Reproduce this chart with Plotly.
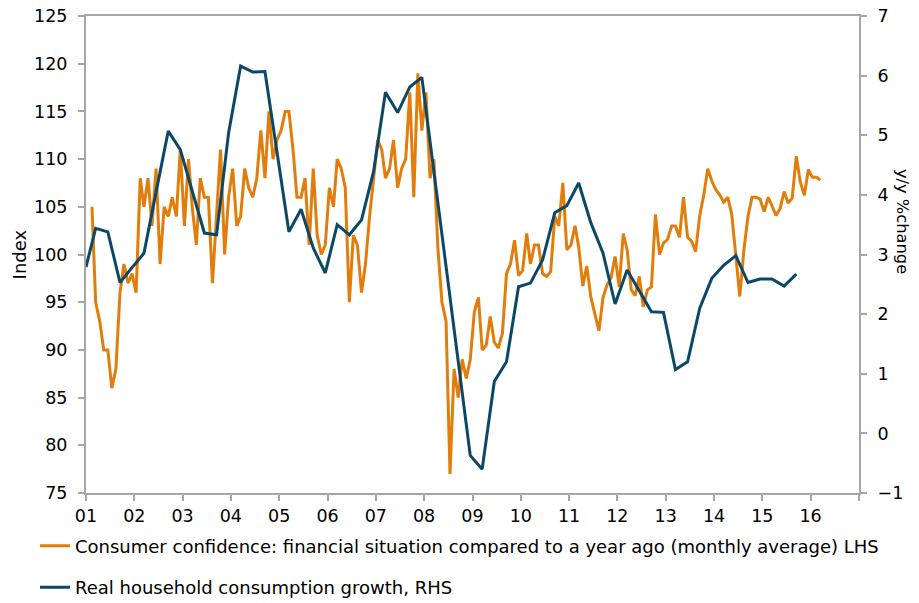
import pandas as pd
import plotly.graph_objects as go

# Monthly consumer confidence (LHS), Jan 2001 - Feb 2016
conf_start = "2001-01-15"
confidence = [
    105, 95, 93, 90, 90, 86, 88, 96, 99, 97, 98, 96,            # 2001
    108, 105, 108, 103, 109, 99, 105, 104, 106, 104, 111, 103,  # 2002
    110, 105, 101, 108, 106, 106, 97, 104, 111, 100, 106, 109,  # 2003
    103, 104, 109, 107, 106, 108, 113, 108, 115, 110, 112, 113, # 2004
    115, 115, 111, 106, 106, 108, 101, 109, 102, 100, 101, 107, # 2005
    105, 110, 109, 107, 95, 102, 101, 96, 99, 104, 108, 112,    # 2006
    111, 108, 109, 112, 107, 109, 110, 117, 106, 119, 113, 117, # 2007
    108, 110, 100.5, 95, 93, 77, 88, 85, 89, 87, 89, 94,        # 2008
    95.5, 90, 90.5, 93.5, 90.8, 90.2, 91.7, 98, 99, 101.5, 97.8, 98.3,       # 2009
    102.2, 99, 101, 101, 98, 97.7, 98.2, 104, 103, 107.5, 100.5, 101,        # 2010
    103, 100.8, 96.7, 98.8, 95.5, 93.8, 92, 95.5, 96.8, 97.6, 99.8, 96.6,    # 2011
    102.2, 100.5, 96.3, 95.7, 97.7, 94.5, 96.3, 96.6, 104.2, 100, 101.2, 101.6,  # 2012
    103, 103, 101.8, 106, 101.8, 101.4, 100.3, 104.1, 106.2, 109, 107.7, 106.8,  # 2013
    106.2, 105.5, 106, 104.2, 100.2, 95.6, 100.5, 104, 106, 106, 105.8, 104.5,   # 2014
    106, 105.1, 104.1, 104.8, 106.6, 105.4, 105.9, 110.3, 107.6, 106.2, 108.9, 108.1,  # 2015
    108.1, 107.8,                                                # 2016
]
conf_dates = pd.date_range(conf_start, periods=len(confidence), freq="MS") + pd.Timedelta(days=14)

# Quarterly real household consumption growth (RHS)
cons_dates = ["2001-01-01"] + [
    f"{y}-{m:02d}-15" for y in range(2001, 2016) for m in (3, 6, 9, 12)
]
consumption = [
    2.79,
    3.44, 3.38, 2.53, 2.78,   # 2001
    3.02, 4.05, 5.07, 4.76,   # 2002
    4.05, 3.36, 3.33, 5.04,   # 2003
    6.16, 6.06, 6.07, 4.73,   # 2004
    3.38, 3.76, 3.11, 2.69,   # 2005
    3.50, 3.33, 3.58, 4.39,   # 2006
    5.72, 5.38, 5.81, 5.97,   # 2007
    4.37, 2.79, 1.21, -0.37,  # 2008
    -0.60, 0.87, 1.20, 2.46,  # 2009
    2.52, 2.91, 3.70, 3.82,   # 2010
    4.20, 3.53, 3.02, 2.17,   # 2011
    2.74, 2.38, 2.04, 2.03,   # 2012
    1.07, 1.20, 2.10, 2.60,   # 2013
    2.82, 2.98, 2.53, 2.59,   # 2014
    2.59, 2.47, 2.67,         # 2015
]
cons_dates = cons_dates[:len(consumption)]

year_ticks = [f"{y}-01-01" for y in range(2001, 2018)]
year_labels = [f"{y % 100:02d}" for y in range(2001, 2017)] + [""]

ORANGE = "#E27D0C"
BLUE = "#0B4868"
AXIS = "#A6A6A6"
FONT = "DejaVu Sans"
GAP = "\u00a0\u200a"

fig = go.Figure()
fig.add_trace(go.Scatter(
    x=conf_dates, y=confidence, mode="lines",
    name="Consumer confidence: financial situation compared to a year ago (monthly average) LHS",
    line=dict(color=ORANGE, width=3), legendgroup="a",
))
fig.add_trace(go.Scatter(
    x=cons_dates, y=consumption, mode="lines", yaxis="y2",
    name="Real household consumption growth, RHS",
    line=dict(color=BLUE, width=3), legendgroup="b",
))

axis_common = dict(
    showgrid=False, zeroline=False, automargin=False,
    showline=True, linecolor=AXIS, linewidth=1.5,
    ticks="outside", ticklen=6, tickcolor=AXIS, tickwidth=1.5,
    ticklabeloverflow="allow",
)

fig.update_layout(
    template="none",
    width=919, height=603,
    margin=dict(l=86, r=60, t=16, b=110, pad=0, autoexpand=False),
    paper_bgcolor="white", plot_bgcolor="white",
    font=dict(family=FONT, size=17.5, color="#000000"),
    showlegend=True,
    legend=dict(
        x=-0.066, xanchor="left", y=-0.0725, yanchor="top",
        orientation="v", font=dict(size=18, family=FONT),
        tracegroupgap=15, bgcolor="rgba(0,0,0,0)", borderwidth=0,
    ),
    xaxis=dict(
        type="date", range=["2001-01-01", "2017-01-01"],
        tickvals=year_ticks, ticktext=year_labels, mirror=True,
        **axis_common,
    ),
    yaxis=dict(
        range=[75, 125], dtick=5, tick0=75, ticksuffix=GAP,
        **axis_common,
    ),
    yaxis2=dict(
        range=[-1, 7], dtick=1, tick0=-1, overlaying="y", side="right",
        tickprefix=GAP,
        **axis_common,
    ),
    annotations=[
        dict(text="Index", xref="paper", yref="paper", x=-0.0855, y=0.5,
             textangle=-90, showarrow=False, font=dict(size=18, family=FONT),
             xanchor="center", yanchor="middle"),
        dict(text="y/y %change", xref="paper", yref="paper", x=1.0572, y=0.57,
             textangle=90, showarrow=False, font=dict(size=16.3, family=FONT),
             xanchor="center", yanchor="middle"),
    ],
)

# Remove the browser's default 8px page margin so the 919x603 figure fills the window.
fig.write_html(
    "out.html",
    config={"displayModeBar": False},
    post_script="document.documentElement.style.margin='0';"
                "document.body.style.margin='0';"
                "document.body.style.overflow='hidden';",
)
